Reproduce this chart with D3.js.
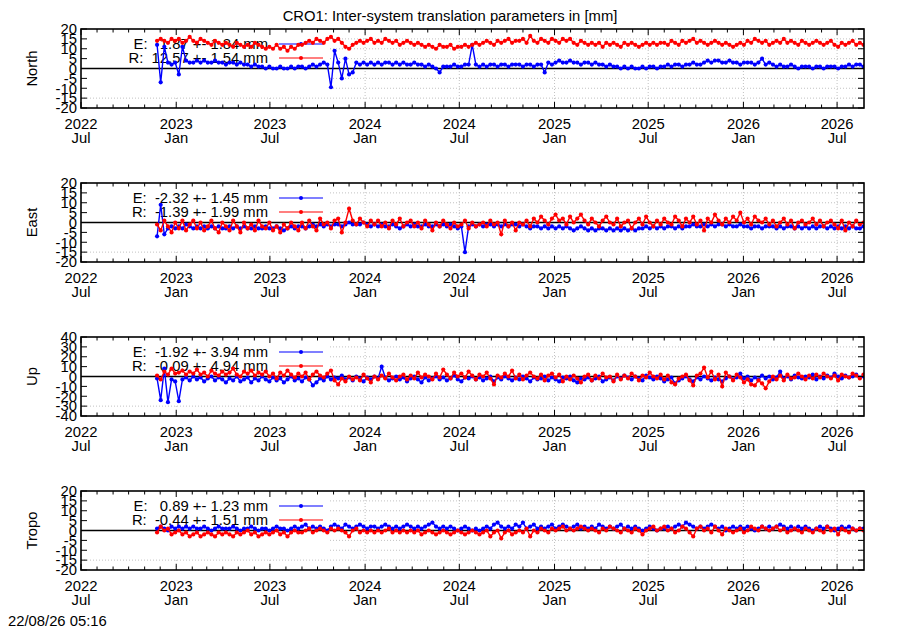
<!DOCTYPE html>
<html>
<head>
<meta charset="utf-8">
<script src="https://cdn.jsdelivr.net/npm/d3@7"></script>
<style>
  body { margin: 0; background: #fff; }
  svg { display: block; font-family: "Liberation Sans", Arial, sans-serif; }
</style>
</head>
<body>
<svg id="chart" width="900" height="630"></svg>
<script>
// daily solutions, read off the plot roughly once a week
const firstDay = '2022-11-25';
const stepDays = 7;

const panelNames = ['North', 'East', 'Up', 'Tropo'];
const yLimits = [20, 20, 40, 20];
const yTickStep = [5, 5, 10, 5];
const legendE = ['E:   1.87 +- 1.84 mm', 'E:  -2.32 +- 1.45 mm', 'E:  -1.92 +- 3.94 mm', 'E:   0.89 +- 1.23 mm'];
const legendR = ['R:  12.57 +- 1.54 mm', 'R:  -1.39 +- 1.99 mm', 'R:  -0.09 +- 4.94 mm', 'R:  -0.44 +- 1.51 mm'];
const title = 'CRO1: Inter-system translation parameters in [mm]';
const stamp = '22/08/26 05:16';

const northE = [
  12,-7,11,3,2,3,-3,11,4,3, 3,4,3,4,3,3,4,3,3,2, 3,3,2,3,2,2,1,2,1,1,
  0,1,0,0,1,0,0,1,0,1, 1,0,1,2,1,2,3,2,-9.5,9, 3,-5,5,-3,-2,3,2,3,2,3,
  2,3,2,3,3,2,3,2,3,2, 2,3,2,2,1,2,1,0,-2,1, 1,1,2,1,1,2,2,12,2,1,
  2,1,2,2,1,2,2,1,2,2, 2,1,2,2,1,2,2,-2,3,2, 3,4,3,3,4,3,3,2,3,3,
  2,3,2,2,1,2,1,1,0,1, 0,1,0,0,1,0,1,1,0,1, 1,2,1,2,2,1,2,2,3,2,
  2,3,4,3,4,4,3,3,4,3, 3,2,3,3,3,2,3,5,2,3, 2,1,2,1,1,2,1,0,1,1,
  1,0,1,1,0,1,1,1,0,1, 1,2,1,2,2,1,2,2
];
const northR = [
  14,15,14,13,15,14,15,13,14,16, 14,13,15,14,13,12,14,13,12,13, 12,11,13,12,11,12,11,13,12,11,
  10,11,10,12,10,11,9,11,10,12, 12,13,14,13,15,14,13,15,16,14, 15,13,11,10,12,13,14,13,14,15,
  13,14,13,15,14,13,14,12,13,14, 13,12,13,12,11,12,11,10,12,11, 11,12,10,11,11,12,11,12,13,12,
  13,14,13,12,14,13,14,15,13,14, 14,15,13,16.5,14,13,15,14,13,15, 14,13,15,14,15,13,12,14,13,12,
  13,12,13,11,13,12,13,12,11,13, 12,13,12,11,12,13,12,13,12,13, 13,12,14,13,12,14,13,14,15,13,
  14,13,12,13,14,13,12,13,12,11, 12,13,12,14,13,15,14,13,14,12, 13,14,13,15,13,14,13,12,14,13,
  12,13,14,13,12,13,14,12,11,13, 12,13,14,12,13,12
];
const eastE = [
  -7,9,-6,-3,-2,-3,-2,-3,-1,-2, -3,-2,-3,-2,-3,-2,-3,-2,-3,-3, -2,-3,-2,-3,-2,-3,-3,-2,-3,-3,
  -2,-3,-3,-2,-3,-4,-3,-2,-3,-2, -2,-3,-2,-1,-2,-1,-2,-1,-2,-1, -1,-2,-1,0,-1,-1,-1,0,-1,-2,
  -1,-2,-1,-2,-2,-1,-2,-3,-2,-1, -2,-1,-2,-2,-1,-2,-2,-1,-2,-1, -2,-1,-2,-3,-2,-15,-2,-1,-2,-1,
  -2,-1,-1,-2,-1,-2,-1,-2,-1,-1, -2,-1,-2,-3,-2,-2,-3,-2,-3,-2, -3,-2,-3,-2,-3,-4,-3,-2,-3,-4,
  -3,-4,-3,-3,-4,-3,-4,-3,-4,-3, -4,-3,-4,-3,-3,-2,-3,-2,-3,-2, -3,-2,-2,-3,-2,-3,-2,-2,-1,-2,
  -2,-1,-2,-1,-2,-1,-1,-2,-1,-2, -2,-1,-2,-2,-3,-2,-2,-3,-2,-2, -2,-3,-2,-3,-2,-2,-3,-2,-3,-2,
  -3,-2,-3,-2,-2,-3,-2,-3,-2,-3, -2,-3,-2,-3,-3,-2
];
const eastR = [
  -1,-4,1,-2,-5,0,-3,1,-4,-1, 1,-3,0,-4,-2,1,-3,-5,0,-2, -4,1,-2,-5,0,-3,-1,-4,1,-2,
  -3,0,-4,-2,-5,-1,-3,0,-2,-4, 0,-3,1,-2,-4,2,-1,0,-3,1, 2,-5,0,7,1,-1,2,0,-2,1,
  -1,1,-2,0,-3,1,-1,2,-2,0, 1,-2,0,-3,1,-1,-4,0,-2,1, -1,-3,0,-2,-1,1,-3,0,-2,-1,
  0,-2,1,-1,0,-6,1,-2,0,-4, 0,-1,1,-2,2,0,3,1,-1,2, 4,1,2,-1,3,0,2,4,1,-1,
  2,0,-2,1,3,0,-1,2,-2,0, 1,-3,0,2,-1,3,0,-2,1,-1, 2,0,-1,3,1,-2,2,0,3,-1,
  1,-4,2,0,4,1,-1,2,0,3, 1,5,0,2,-1,3,1,0,2,-1, 1,-2,0,2,-1,1,-3,0,1,-1,
  0,2,-1,1,-2,0,1,-1,-3,1, -4,0,-2,1,-1,0
];
const upE = [
  -2,-24,8,-26,-3,-5,-25,-3,-1,-4, 0,-3,-1,-5,-2,0,-4,-1,-3,-6, -2,-4,0,-5,-3,-1,-6,-2,-4,0,
  -3,-5,-1,-4,-2,-6,-3,0,-4,-2, -5,-1,-3,-9,-6,-2,-4,0,-3,-1, -2,1,-3,-1,-4,0,-2,-5,-1,-3,
  0,-2,10,-1,-4,-2,0,-3,-1,-5, -2,0,-3,-6,-1,-4,-2,0,-3,-1, -4,-2,1,-3,-5,-1,-2,0,-3,-1,
  -4,-2,0,-5,-1,-3,0,-2,-4,-1, -3,0,-2,-5,-1,-3,-2,0,-4,-1, -3,-5,-1,-2,0,-4,-6,-2,-3,-1,
  -4,-2,0,-5,-3,-1,-4,0,-2,1, -1,-3,0,-2,-4,1,-1,-3,0,-2, -5,-3,-1,-7,-4,-2,0,-3,-5,-1,
  -3,0,-2,-4,-1,-3,-5,-2,0,-3, -1,3,-2,0,-4,-1,-3,1,-2,0, -3,-1,5,-2,0,-3,1,-1,-2,0,
  -1,2,-3,0,-2,1,-1,3,0,-2, 1,-1,0,2,-1,0
];
const upR = [
  1,-3,5,2,8,3,4,6,2,5, 3,7,2,4,0,6,3,1,5,2, 4,8,2,0,5,3,6,1,4,2,
  5,0,3,-2,4,1,6,2,-1,3, 0,4,-3,2,5,1,-1,3,6,-4, -8,-2,-5,0,-3,-1,-4,2,-2,-6,
  0,-3,1,-2,3,-1,-4,0,2,-3, 1,-2,4,-1,2,0,-3,3,-1,7, 2,-2,4,0,3,-1,5,1,-3,2,
  0,4,-2,-8,1,-1,3,0,6,-2, 2,-3,1,4,0,-2,2,-4,1,3, -1,2,-5,0,-3,1,-2,-6,0,2,
  -4,1,-2,3,-1,0,-5,2,-3,1, -2,3,0,-4,1,-1,4,0,-2,2, -3,1,-6,-8,-2,0,2,-4,-9,1,
  3,9,-1,5,-3,2,-10,4,0,-4, 2,-1,-6,-3,-8,-9,-4,-7,-12,-5, 0,-3,1,-4,2,-2,-1,3,0,-3,
  1,-2,2,-1,3,0,-2,1,-4,2, 0,-1,3,1,-2,2
];
const tropoE = [
  1,2,1,0,2,1,2,1,2,1, 2,1,1,2,1,0,1,2,1,1, 1,2,1,0,1,1,2,1,0,1,
  1,0,1,2,1,1,0,1,2,1, 2,3,1,2,1,2,1,0,2,3, 2,1,3,2,1,2,3,2,1,2,
  2,1,2,3,2,1,2,1,2,3, 2,1,2,1,2,3,4,2,1,2, 1,2,1,0,1,2,1,0,1,0,
  1,2,1,3,4,2,1,2,1,3, 2,4,1,2,3,1,2,1,2,3, 1,2,3,2,1,2,3,1,2,1,
  2,1,3,2,1,2,1,2,3,1, 2,1,2,1,0,1,2,1,0,1, 1,2,1,2,3,2,4,3,2,1,
  2,1,2,3,2,1,2,0,1,2, 1,2,1,2,1,0,1,2,1,2, 1,2,3,2,1,2,1,2,1,2,
  1,0,1,2,1,2,1,0,1,2, 1,2,1,0,1,1
];
const tropoR = [
  -1,2,0,1,-2,-1,0,-2,-1,-3, -2,-1,-3,-2,-1,-2,-3,-1,-2,-1, -2,-3,-1,-2,-1,0,-2,-1,-3,-2,
  -1,-2,-1,0,-2,-1,-3,-1,0,-1, -1,0,1,-1,0,1,0,-1,1,0, 1,0,-1,-3,0,1,-1,0,-1,0,
  -1,0,-1,0,1,-1,0,-1,0,-1, 0,-1,0,-2,-1,0,-1,-2,-1,0, -1,-2,-1,0,-1,-2,-1,0,-1,-2,
  -1,0,-3,-1,0,-4,-1,0,-2,-1, 0,-1,1,-3,0,-1,1,0,-1,1, 0,1,2,0,1,0,1,2,1,0,
  1,0,-1,1,0,2,1,0,-1,1, 0,-1,1,0,-2,0,1,2,0,1, 2,0,1,-1,0,2,1,-1,-3,1,
  2,0,1,-1,2,0,-2,1,0,-1, 0,1,-1,0,2,1,0,2,1,0, 1,2,0,1,-1,0,1,0,-1,1,
  0,-1,1,0,-1,2,0,1,-2,1, 0,-1,1,0,1,0
];

const seriesE = [northE, eastE, upE, tropoE];
const seriesR = [northR, eastR, upR, tropoR];

const svg = d3.select('#chart');
const width = +svg.attr('width');

const margin = { left: 81, right: 36 };
const panelTop = 29;
const panelGap = 154;
const panelHeight = 79;
const keyWidth = 249;
const keyHeight = 68;
const fontSize = '14.8px';

const start = new Date(firstDay + 'T00:00:00Z');
const toPoints = arr => arr.map((v, i) => ({ date: d3.utcDay.offset(start, i * stepDays), value: v }));

const x = d3.scaleUtc()
    .domain([new Date('2022-07-01T00:00:00Z'), new Date('2026-08-22T00:00:00Z')])
    .range([margin.left, width - margin.right]);

const majorTicks = x.ticks(d3.utcMonth.every(6));
const minorTicks = x.ticks(d3.utcMonth.every(1));
const fmtYear = d3.utcFormat('%Y');
const fmtMonth = d3.utcFormat('%b');

svg.append('rect').attr('width', width).attr('height', 630).attr('fill', '#fff');

svg.append('text')
    .attr('x', 450).attr('y', 21)
    .attr('text-anchor', 'middle')
    .style('font-size', fontSize)
    .text(title);

panelNames.forEach((name, k) => {
    const top = panelTop + k * panelGap;
    const bottom = top + panelHeight;
    const lim = yLimits[k];

    const y = d3.scaleLinear().domain([-lim, lim]).range([bottom, top]);
    const yTicks = d3.range(-lim, lim + 0.1, yTickStep[k]);

    const g = svg.append('g');

    // grid
    const grid = g.append('g')
        .attr('stroke', '#a8a8a8')
        .attr('stroke-width', 0.7)
        .attr('stroke-dasharray', '1,2');
    grid.selectAll('.gy')
        .data(yTicks.filter(t => t !== 0 && Math.abs(t) !== lim))
        .join('line')
        .attr('x1', margin.left).attr('x2', width - margin.right)
        .attr('y1', d => y(d)).attr('y2', d => y(d));
    grid.selectAll('.gx')
        .data(majorTicks.filter(t => x(t) > margin.left + 1))
        .join('line')
        .attr('x1', d => x(d)).attr('x2', d => x(d))
        .attr('y1', top).attr('y2', bottom);

    // opaque key box
    g.append('rect')
        .attr('x', margin.left).attr('y', top)
        .attr('width', keyWidth).attr('height', keyHeight)
        .attr('fill', '#fff');

    // zero line
    g.append('line')
        .attr('x1', margin.left).attr('x2', width - margin.right)
        .attr('y1', y(0)).attr('y2', y(0))
        .attr('stroke', '#000').attr('stroke-width', 1.3);

    // legend
    const legend = [[legendE[k], '#0000ff', top + 15], [legendR[k], '#ff0000', top + 29]];
    legend.forEach(([txt, col, ly]) => {
        g.append('text')
            .attr('x', 268).attr('y', ly)
            .attr('dy', '0.36em')
            .attr('text-anchor', 'end')
            .attr('xml:space', 'preserve')
            .style('white-space', 'pre')
            .style('font-size', fontSize)
            .text(txt);
        g.append('line')
            .attr('x1', 279).attr('x2', 323)
            .attr('y1', ly).attr('y2', ly)
            .attr('stroke', col).attr('stroke-width', 1.2);
        g.append('circle')
            .attr('cx', 301).attr('cy', ly).attr('r', 2)
            .attr('fill', col);
    });

    // data
    const clipId = 'clip' + k;
    g.append('clipPath').attr('id', clipId)
        .append('rect')
        .attr('x', margin.left).attr('y', top)
        .attr('width', width - margin.right - margin.left).attr('height', panelHeight);

    const line = d3.line().x(d => x(d.date)).y(d => y(d.value));
    const data = g.append('g').attr('clip-path', `url(#${clipId})`);
    [[seriesE[k], '#0000ff'], [seriesR[k], '#ff0000']].forEach(([arr, col]) => {
        const pts = toPoints(arr);
        data.append('path')
            .datum(pts)
            .attr('d', line)
            .attr('fill', 'none')
            .attr('stroke', col)
            .attr('stroke-width', 1.4);
        data.append('g')
            .selectAll('circle')
            .data(pts)
            .join('circle')
            .attr('cx', d => x(d.date))
            .attr('cy', d => y(d.value))
            .attr('r', 2.1)
            .attr('fill', col);
    });

    // tick marks (inward, mirrored)
    const ticks = g.append('g').attr('stroke', '#000').attr('stroke-width', 1);
    minorTicks.forEach(t => {
        const len = majorTicks.some(m => +m === +t) ? 6 : 3.5;
        ticks.append('line').attr('x1', x(t)).attr('x2', x(t)).attr('y1', bottom).attr('y2', bottom - len);
        ticks.append('line').attr('x1', x(t)).attr('x2', x(t)).attr('y1', top).attr('y2', top + len);
    });
    yTicks.forEach(t => {
        ticks.append('line').attr('x1', margin.left).attr('x2', margin.left + 6).attr('y1', y(t)).attr('y2', y(t));
        ticks.append('line').attr('x1', width - margin.right).attr('x2', width - margin.right - 6).attr('y1', y(t)).attr('y2', y(t));
    });

    // y tick labels
    g.append('g')
        .selectAll('text')
        .data(yTicks.slice().reverse())
        .join('text')
        .attr('x', margin.left - 4)
        .attr('y', d => y(d))
        .attr('dy', '0.36em')
        .attr('text-anchor', 'end')
        .style('font-size', fontSize)
        .text(d => d);

    // x tick labels: year over month
    const xl = g.append('g').attr('text-anchor', 'middle').style('font-size', fontSize);
    xl.selectAll('.yr')
        .data(majorTicks)
        .join('text')
        .attr('x', d => x(d)).attr('y', bottom + 21)
        .text(d => fmtYear(d));
    xl.selectAll('.mo')
        .data(majorTicks)
        .join('text')
        .attr('x', d => x(d)).attr('y', bottom + 35)
        .text(d => fmtMonth(d));

    // axis name
    g.append('text')
        .attr('transform', `translate(32, ${(top + bottom) / 2}) rotate(-90)`)
        .attr('dy', '0.35em')
        .attr('text-anchor', 'middle')
        .style('font-size', fontSize)
        .text(name);

    // frame
    g.append('rect')
        .attr('x', margin.left).attr('y', top)
        .attr('width', width - margin.right - margin.left).attr('height', panelHeight)
        .attr('fill', 'none')
        .attr('stroke', '#000')
        .attr('stroke-width', 1.6);
});

svg.append('text')
    .attr('x', 8).attr('y', 626)
    .style('font-size', fontSize)
    .text(stamp);
</script>
</body>
</html>
